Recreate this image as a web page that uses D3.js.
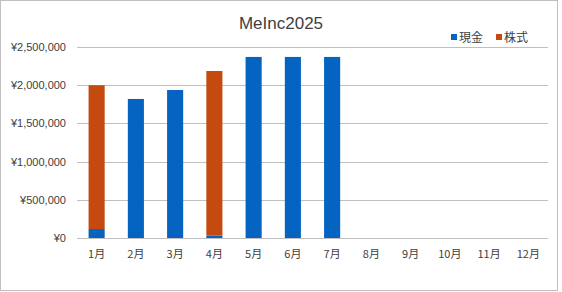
<!DOCTYPE html>
<html>
<head>
<meta charset="utf-8">
<script src="https://cdn.jsdelivr.net/npm/d3@7"></script>
<style>
  body { margin: 0; background: white; }
  text { font-family: "Noto Sans CJK JP", "Noto Sans", sans-serif; fill: #404040; }
</style>
</head>
<body>
<div id="chart"></div>
<script>
const months = ["1月","2月","3月","4月","5月","6月","7月","8月","9月","10月","11月","12月"];
const cash  = [118000, 1820000, 1937000, 30000, 2370000, 2370000, 2370000, 0, 0, 0, 0, 0];
const stock = [1882000, 0, 0, 2156000, 0, 0, 0, 0, 0, 0, 0, 0];
const yTicks = [0, 500000, 1000000, 1500000, 2000000, 2500000];
const seriesNames = ["現金", "株式"];
const colors = ["#0563C1", "#C44A10"];

const W = 562, H = 292;
const svg = d3.select("#chart").append("svg").attr("width", W).attr("height", H);

svg.append("rect").attr("x", 0.5).attr("y", 0.5).attr("width", 557).attr("height", 290)
  .attr("fill", "white").attr("stroke", "#BFBFBF");

const plotLeft = 77, plotRight = 548, plotTop = 47, plotBottom = 238;

const x = d3.scaleBand().domain(months).range([plotLeft, plotRight]).paddingInner(0.59).paddingOuter(0.295);
const y = d3.scaleLinear().domain([0, 2500000]).range([plotBottom, plotTop]);

// gridlines
svg.append("g").selectAll("line").data(yTicks).enter().append("line")
  .attr("x1", plotLeft).attr("x2", plotRight)
  .attr("y1", d => Math.round(y(d)) + 0.5).attr("y2", d => Math.round(y(d)) + 0.5)
  .attr("stroke", "#BFBFBF");

// y axis labels
const yAxis = d3.axisLeft(y).tickValues(yTicks).tickSize(0).tickPadding(11)
  .tickFormat(d => "¥" + d3.format(",")(d));
const ya = svg.append("g").attr("transform", `translate(${plotLeft},0)`).call(yAxis);
ya.select(".domain").remove();
ya.selectAll("text").style("font-size", "11px").attr("fill", "#404040").style("font-family", "'Liberation Sans', sans-serif");

// x axis labels
const xAxis = d3.axisBottom(x).tickSize(0).tickPadding(12);
const xa = svg.append("g").attr("transform", `translate(0,${plotBottom})`).call(xAxis);
xa.select(".domain").remove();
xa.selectAll("text").style("font-size", "11px").attr("fill", "#404040");

// stacked bars
const rows = months.map((m, i) => ({ m, cash: cash[i], stock: stock[i] }));
const stacked = d3.stack().keys(["cash", "stock"])(rows);
svg.append("g").selectAll("g").data(stacked).enter().append("g")
  .attr("fill", (d, i) => colors[i])
  .selectAll("rect").data(d => d).enter().append("rect")
  .attr("x", d => x(d.data.m))
  .attr("width", x.bandwidth())
  .attr("y", d => y(d[1]))
  .attr("height", d => y(d[0]) - y(d[1]));

// title
svg.append("text").attr("x", 281).attr("y", 29).attr("text-anchor", "middle")
  .style("font-size", "17px").style("font-family", "'Liberation Sans', sans-serif").attr("fill", "#404040")
  .text("MeInc2025");

// legend
const lx = [451, 496];
seriesNames.forEach((n, i) => {
  svg.append("rect").attr("x", lx[i]).attr("y", 34).attr("width", 6).attr("height", 6).attr("fill", colors[i]);
  svg.append("text").attr("x", lx[i] + 8).attr("y", 41.5).style("font-size", "12px").attr("fill", "#404040").text(n);
});
</script>
</body>
</html>
